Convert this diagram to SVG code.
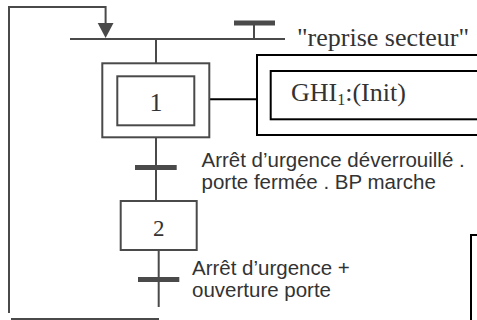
<svg xmlns="http://www.w3.org/2000/svg" width="477" height="320" viewBox="0 0 477 320">
<style>
.ln{fill:none;stroke:#4a4a4a;stroke-width:2}
.bk{fill:none;stroke:#000;stroke-width:2}
.bar{fill:#4a4a4a}
.serif{font-family:"Liberation Serif","Times New Roman",serif;fill:#333}
.sans{font-family:"Liberation Sans",Arial,sans-serif;fill:#333;font-size:20.5px}
</style>
<rect width="477" height="320" fill="#fff"/>
<g id="connectors">
<polyline class="ln" points="9,313 9,7 105.6,7 105.6,26"/>
<polygon points="97.7,23 113.5,23 105.6,38" fill="#4a4a4a"/>
<line class="ln" x1="70" y1="39" x2="285" y2="39"/>
<line class="ln" x1="254" y1="23" x2="254" y2="39"/>
<line class="ln" x1="156" y1="39" x2="156" y2="63"/>
<line class="ln" x1="156" y1="137" x2="156" y2="201"/>
<line class="ln" x1="158.7" y1="250" x2="158.7" y2="307"/>
<line class="ln" x1="11" y1="319" x2="159" y2="319"/>
<line class="bk" x1="209" y1="99.3" x2="257" y2="99.3"/>
</g>
<g id="t0"><rect class="bar" x="234" y="20.5" width="41" height="5"/></g>
<g id="reprise"><text class="serif" x="297" y="46" font-size="26">"reprise secteur"</text></g>
<g id="step1">
<rect class="ln" x="102.3" y="63.3" width="107" height="74"/>
<rect class="ln" x="117.3" y="76.3" width="77" height="49"/>
<text class="serif" x="156" y="111" font-size="26" text-anchor="middle">1</text>
</g>
<g id="action1">
<rect class="bk" x="257" y="55" width="240" height="80"/>
<rect class="bk" x="270.7" y="71" width="230" height="48.3"/>
<text class="serif" x="291" y="101" font-size="26">GHI<tspan font-size="16" dy="4">1</tspan><tspan dy="-4">:(Init)</tspan></text>
</g>
<g id="t1">
<rect class="bar" x="135" y="165" width="41.7" height="5"/>
<text class="sans" x="201.5" y="166.5">Arrêt d’urgence déverrouillé .</text>
<text class="sans" x="201.5" y="188.5">porte fermée . BP marche</text>
</g>
<g id="step2">
<rect class="ln" x="120.7" y="201" width="76" height="49"/>
<text class="serif" x="158.7" y="236" font-size="23" text-anchor="middle">2</text>
</g>
<g id="t2">
<rect class="bar" x="138" y="277" width="41.3" height="5"/>
<text class="sans" x="192" y="275">Arrêt d’urgence +</text>
<text class="sans" x="192" y="297">ouverture porte</text>
</g>
<g id="partial">
<polyline class="bk" points="471,322 471,235 480,235"/>
</g>
</svg>
